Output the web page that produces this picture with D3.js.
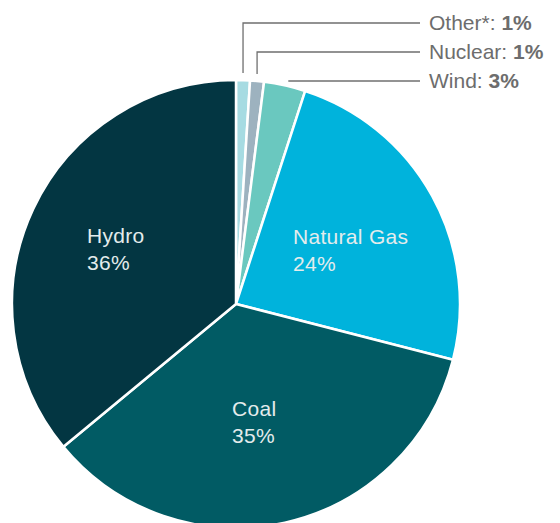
<!DOCTYPE html>
<html>
<head>
<meta charset="utf-8">
<script src="https://cdn.jsdelivr.net/npm/d3@7"></script>
<style>
  body { margin: 0; background: #fff; }
  text { font-family: "Liberation Sans", Arial, sans-serif; }
</style>
</head>
<body>
<svg id="chart" width="560" height="523"></svg>
<script>
// source shares, clockwise from 12 o'clock
var sources = ['Other*', 'Nuclear', 'Wind', 'Natural Gas', 'Coal', 'Hydro'];
var shares = [1, 1, 3, 24, 35, 36];
var colors = ['#a6dbe2', '#9db2bf', '#6ac8bf', '#00b3dc', '#015b64', '#033642'];

// which slices get a label inside, which get a leader line
var insideLabels = ['Hydro', 'Natural Gas', 'Coal'];
var calloutLabels = ['Other*', 'Nuclear', 'Wind'];

var cx = 236, cy = 304, radius = 224;

var svg = d3.select('#chart');
var g = svg.append('g').attr('transform', 'translate(' + cx + ',' + cy + ')');

var data = sources.map(function(s, i) {
  return { name: s, value: shares[i], color: colors[i] };
});

var pie = d3.pie().sort(null).value(function(d) { return d.value; });
var arc = d3.arc().innerRadius(0).outerRadius(radius);
var arcs = pie(data);

g.selectAll('path.slice').data(arcs).enter()
  .append('path')
    .attr('class', 'slice')
    .attr('d', arc)
    .attr('fill', function(d) { return d.data.color; })
    .attr('stroke', '#fff')
    .attr('stroke-width', 2.5)
    .attr('stroke-linejoin', 'round');

// labels inside the big slices (offsets from pie centre, tuned by eye)
var insideOffsets = {
  'Hydro': [-149, -61],
  'Natural Gas': [57, -60],
  'Coal': [-4, 112]
};

arcs.filter(function(d) { return insideLabels.indexOf(d.data.name) >= 0; })
  .forEach(function(d) {
    var off = insideOffsets[d.data.name];
    var t = g.append('text')
      .attr('x', off[0])
      .attr('y', off[1])
      .attr('fill', '#e4ecec')
      .attr('font-size', 21)
      .attr('letter-spacing', 0.3);
    t.append('tspan').attr('x', off[0]).text(d.data.name);
    t.append('tspan').attr('x', off[0]).attr('dy', 27).text(d.data.value + '%');
  });

// callouts for the small slices
var lineEndX = 420;
var calloutY = { 'Other*': 23, 'Nuclear': 52, 'Wind': 81 };

arcs.filter(function(d) { return calloutLabels.indexOf(d.data.name) >= 0; })
  .forEach(function(d) {
    var mid = (d.startAngle + d.endAngle) / 2;
    var yTarget = calloutY[d.data.name];
    var pts;
    if (d.data.name === 'Wind') {
      var wx = cx + Math.sin(mid) * (radius + 2);
      pts = [[wx + 3, yTarget], [lineEndX, yTarget]];
    } else {
      var px = cx + Math.sin(mid) * radius;
      var py = cy - Math.cos(mid) * radius - 7;
      pts = [[px, py], [px, yTarget], [lineEndX, yTarget]];
    }
    svg.append('path')
      .attr('d', d3.line()(pts))
      .attr('fill', 'none')
      .attr('stroke', '#6f6f6f')
      .attr('stroke-width', 1.3);

    var t = svg.append('text')
      .attr('x', lineEndX + 9)
      .attr('y', yTarget + 7)
      .attr('fill', '#6d6d6d')
      .attr('font-size', 21);
    t.append('tspan').text(d.data.name + ': ');
    t.append('tspan').attr('font-weight', 'bold').text(d.data.value + '%');
  });
</script>
</body>
</html>
